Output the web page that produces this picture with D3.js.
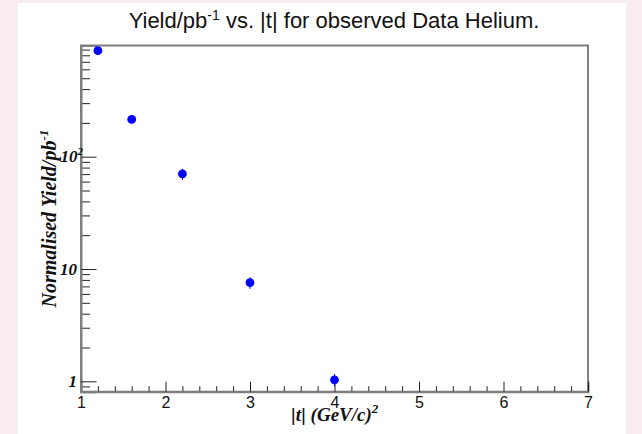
<!DOCTYPE html>
<html>
<head>
<meta charset="utf-8">
<script src="https://cdn.jsdelivr.net/npm/d3@7"></script>
<style>
  body { margin: 0; background: #f8ecf0; }
  #graf { width: 642px; height: 434px; }
  .axis path, .axis line { stroke: #222; }
  .axis .domain { stroke: #7f7f7f; stroke-width: 2; }
</style>
</head>
<body>
<div id="graf"></div>
<script>
// Datos
const tVals = [1.2, 1.6, 2.2, 3.0, 4.0]
const yieldVals = [879, 215, 70.2, 7.55, 1.03]
const yieldErr = [25, 6, 8, 0.9, 0.13]
const xTicks = [1, 2, 3, 4, 5, 6, 7]
const yMajor = [1, 10, 100]
const yMajorLabels = [['1', ''], ['10', ''], ['10', '2']]

const data = tVals.map((t, i) => ({ t, y: yieldVals[i], e: yieldErr[i] }))

// Dimensiones
const anchoTotal = 642
const altoTotal = 434
const margins = { top: 45.5, right: 54, bottom: 42.3, left: 81 }
const ancho = anchoTotal - margins.left - margins.right
const alto = altoTotal - margins.top - margins.bottom

const svg = d3.select('#graf').append('svg')
    .attr('width', anchoTotal)
    .attr('height', altoTotal)

// lienzo blanco
svg.append('rect')
    .attr('x', 18).attr('y', 3)
    .attr('width', 608).attr('height', 431)
    .attr('fill', 'white')

const g = svg.append('g')
    .attr('transform', `translate(${margins.left}, ${margins.top})`)

// Escaladores
const x = d3.scaleLinear().domain([1, 7]).range([0, ancho])
const y = d3.scaleLog().domain([0.808, 978]).range([alto, 0])

// marco
g.append('rect')
    .attr('width', ancho)
    .attr('height', alto)
    .attr('fill', 'none')
    .attr('stroke', '#7f7f7f')
    .attr('stroke-width', 2)

// Ejes X
const xMinor = d3.range(1, 7.001, 0.2).filter(v => Math.abs(v - Math.round(v)) > 0.01)
g.append('g').classed('axis', true)
    .attr('transform', `translate(0, ${alto})`)
    .call(d3.axisBottom(x).tickValues(xMinor).tickSize(-5.5).tickFormat(''))
    .call(a => a.select('.domain').remove())
const xAxisG = g.append('g').classed('axis', true)
    .attr('transform', `translate(0, ${alto})`)
    .call(d3.axisBottom(x).tickValues(xTicks).tickSize(-10).tickPadding(5).tickFormat(d3.format('d')))
xAxisG.selectAll('text')
    .attr('font-family', 'Liberation Sans, Arial, sans-serif')
    .attr('font-size', 16)
    .attr('fill', '#111')

// Ejes Y
const yMinorVals = []
for (let dec = 0.1; dec <= 100; dec *= 10) {
    for (let k = 2; k <= 9; k++) {
        const v = +(k * dec).toPrecision(3)
        if (v >= 0.808 && v <= 978) yMinorVals.push(v)
    }
}
g.append('g').classed('axis', true)
    .call(d3.axisLeft(y).tickValues(yMinorVals).tickSize(-9).tickFormat(''))
    .call(a => a.select('.domain').remove())
const yAxisG = g.append('g').classed('axis', true)
    .call(d3.axisLeft(y).tickValues(yMajor).tickSize(-15.5).tickFormat(''))

yAxisG.selectAll('.tick').each(function (d, i) {
    const txt = d3.select(this).append('text')
        .attr('x', i === 2 ? 2 : -4)
        .attr('y', 5)
        .attr('text-anchor', 'end')
        .attr('font-family', 'Liberation Serif, Times New Roman, serif')
        .attr('font-style', 'italic')
        .attr('font-weight', 'bold')
        .attr('font-size', 17)
        .attr('fill', '#111')
    txt.append('tspan').text(yMajorLabels[i][0])
    if (yMajorLabels[i][1]) {
        txt.append('tspan').attr('dy', -7).attr('font-size', 11).text(yMajorLabels[i][1])
    }
})

// Barras de error
g.selectAll('line.err').data(data).enter()
    .append('line').attr('class', 'err')
    .attr('x1', d => x(d.t)).attr('x2', d => x(d.t))
    .attr('y1', d => y(d.y - d.e)).attr('y2', d => y(d.y + d.e))
    .attr('stroke', '#0000ff')
    .attr('stroke-width', 1)

// Puntos
g.selectAll('circle').data(data).enter()
    .append('circle')
    .attr('cx', d => x(d.t))
    .attr('cy', d => y(d.y))
    .attr('r', 4.4)
    .attr('fill', '#0000ff')

// Titulos
svg.append('text')
    .attr('x', 334).attr('y', 28)
    .attr('text-anchor', 'middle')
    .attr('font-family', 'Liberation Sans, Arial, sans-serif')
    .attr('font-size', 22)
    .attr('fill', '#111')
    .call(t => {
        t.append('tspan').text('Yield/pb')
        t.append('tspan').attr('dy', -8).attr('font-size', 14).text('-1')
        t.append('tspan').attr('dy', 8).text('  vs. |t| for observed Data Helium.')
    })

// Titulo eje X
svg.append('text')
    .attr('x', margins.left + ancho / 2).attr('y', 421)
    .attr('text-anchor', 'middle')
    .attr('font-family', 'Liberation Serif, Times New Roman, serif')
    .attr('font-weight', 'bold')
    .attr('font-size', 19)
    .attr('fill', '#111')
    .call(t => {
        t.append('tspan').attr('font-family', 'Liberation Sans, Arial, sans-serif').attr('font-weight', 'normal').text('|')
        t.append('tspan').attr('font-style', 'italic').text('t')
        t.append('tspan').attr('font-family', 'Liberation Sans, Arial, sans-serif').attr('font-weight', 'normal').text('|')
        t.append('tspan').attr('font-style', 'italic').text(' (GeV/c)')
        t.append('tspan').attr('font-style', 'italic').attr('dy', -8).attr('font-size', 13).text('2')
    })

// Titulo eje Y
svg.append('text')
    .attr('transform', `translate(56, ${margins.top + alto / 2}) rotate(-90)`)
    .attr('text-anchor', 'middle')
    .attr('font-family', 'Liberation Serif, Times New Roman, serif')
    .attr('font-weight', 'bold')
    .attr('font-style', 'italic')
    .attr('font-size', 20)
    .attr('fill', '#111')
    .call(t => {
        t.append('tspan').text('Normalised Yield/pb')
        t.append('tspan').attr('dy', -8).attr('font-size', 13).text('-1')
    })
</script>
</body>
</html>
